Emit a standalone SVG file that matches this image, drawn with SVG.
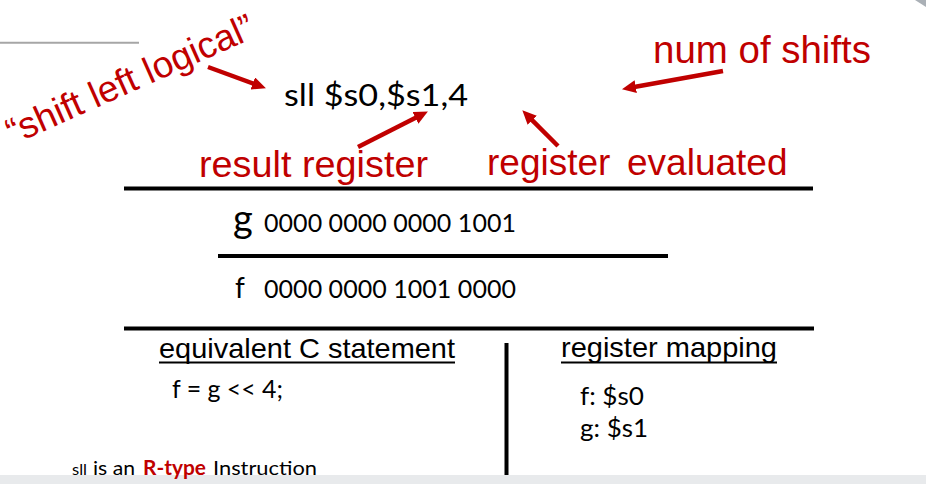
<svg xmlns="http://www.w3.org/2000/svg" width="926" height="484" viewBox="0 0 926 484">
  <style>
    .red { fill: #C00000; font-family: "Liberation Sans", Arial, sans-serif; }
    .cal { fill: #000; font-family: Lato, "Open Sans", sans-serif; }
    .hd { fill: #000; font-family: "Liberation Sans", Arial, sans-serif; font-size: 28px; }
    .rule { stroke: #000; stroke-width: 4; }
    .ul { stroke: #000; stroke-width: 2; }
    .arrow { stroke: #C00000; stroke-width: 4.5; fill: none; marker-end: url(#head); }
  </style>
  <defs>
    <marker id="head" markerUnits="userSpaceOnUse" markerWidth="14" markerHeight="13" refX="3" refY="6.5" orient="auto">
      <path d="M0,0 L14,6.5 L0,13 z" fill="#C00000"/>
    </marker>
  </defs>
  <rect x="0" y="0" width="926" height="484" fill="#fff"/>
  <g id="decor">
    <line x1="0" y1="42.7" x2="139" y2="42.7" stroke="#a6a6a6" stroke-width="2"/>
    <polygon points="915,0 926,0 926,7" fill="#aab0b6"/>
    <rect x="0" y="475" width="926" height="9" fill="#e8eaec"/>
  </g>
  <g id="rules">
    <line class="rule" x1="124" y1="188.5" x2="813" y2="188.5"/>
    <line class="rule" x1="218" y1="256" x2="668" y2="256"/>
    <line class="rule" x1="124" y1="328.5" x2="814" y2="328.5"/>
    <line class="rule" x1="506.5" y1="343" x2="506.5" y2="475"/>
  </g>
  <g id="instruction">
    <text class="cal" x="284" y="106" font-size="30" textLength="184" lengthAdjust="spacingAndGlyphs">sll $s0,$s1,4</text>
  </g>
  <g id="label-sll">
    <text class="red" font-size="37" transform="translate(13,145) rotate(-24)">“shift left logical”</text>
  </g>
  <g id="label-shifts">
    <text class="red" x="653" y="63" font-size="38" textLength="218" lengthAdjust="spacingAndGlyphs">num of shifts</text>
  </g>
  <g id="label-result">
    <text class="red" x="199" y="177" font-size="37" textLength="229" lengthAdjust="spacingAndGlyphs">result register</text>
  </g>
  <g id="label-evaluated">
    <text class="red" y="175" font-size="37"><tspan x="487">register</tspan><tspan x="627">evaluated</tspan></text>
  </g>
  <g id="row-g">
    <text class="cal" x="233" y="232" font-size="38">g</text>
    <text class="cal" x="264" y="232" font-size="25" textLength="252" lengthAdjust="spacing">0000 0000 0000 1001</text>
  </g>
  <g id="row-f">
    <text class="cal" x="235" y="298" font-size="28">f</text>
    <text class="cal" x="264" y="298" font-size="25" textLength="252" lengthAdjust="spacing">0000 0000 1001 0000</text>
  </g>
  <g id="c-statement">
    <text class="hd" x="159" y="358" textLength="296" lengthAdjust="spacingAndGlyphs">equivalent C statement</text>
    <line class="ul" x1="159" y1="362.5" x2="455" y2="362.5"/>
    <text class="cal" x="172" y="398" font-size="25" textLength="111" lengthAdjust="spacingAndGlyphs">f = g &lt;&lt; 4;</text>
  </g>
  <g id="register-mapping">
    <text class="hd" x="561" y="357" textLength="216" lengthAdjust="spacingAndGlyphs">register mapping</text>
    <line class="ul" x1="561" y1="362.5" x2="777" y2="362.5"/>
    <text class="cal" x="580" y="405" font-size="25" textLength="64" lengthAdjust="spacingAndGlyphs">f: $s0</text>
    <text class="cal" x="580" y="437" font-size="25" textLength="68" lengthAdjust="spacingAndGlyphs">g: $s1</text>
  </g>
  <g id="footnote">
    <text class="cal" x="72" y="475" font-size="15" textLength="15" lengthAdjust="spacingAndGlyphs">sll</text>
    <text class="cal" x="93" y="475" font-size="20" textLength="42" lengthAdjust="spacingAndGlyphs">is an</text>
    <text class="cal" x="143" y="475" font-size="20" font-weight="bold" style="fill:#C00000" textLength="63" lengthAdjust="spacingAndGlyphs">R-type</text>
    <text class="cal" x="213" y="475" font-size="20" textLength="104" lengthAdjust="spacingAndGlyphs">Instruction</text>
  </g>
  <g id="connectors">
    <line class="arrow" x1="208" y1="67" x2="255.6" y2="84.5"/>
    <line class="arrow" x1="358" y1="147" x2="418.1" y2="116.5"/>
    <line class="arrow" x1="723" y1="71" x2="632.8" y2="87.2"/>
    <line class="arrow" x1="558" y1="146" x2="530.1" y2="118.1"/>
  </g>
</svg>
